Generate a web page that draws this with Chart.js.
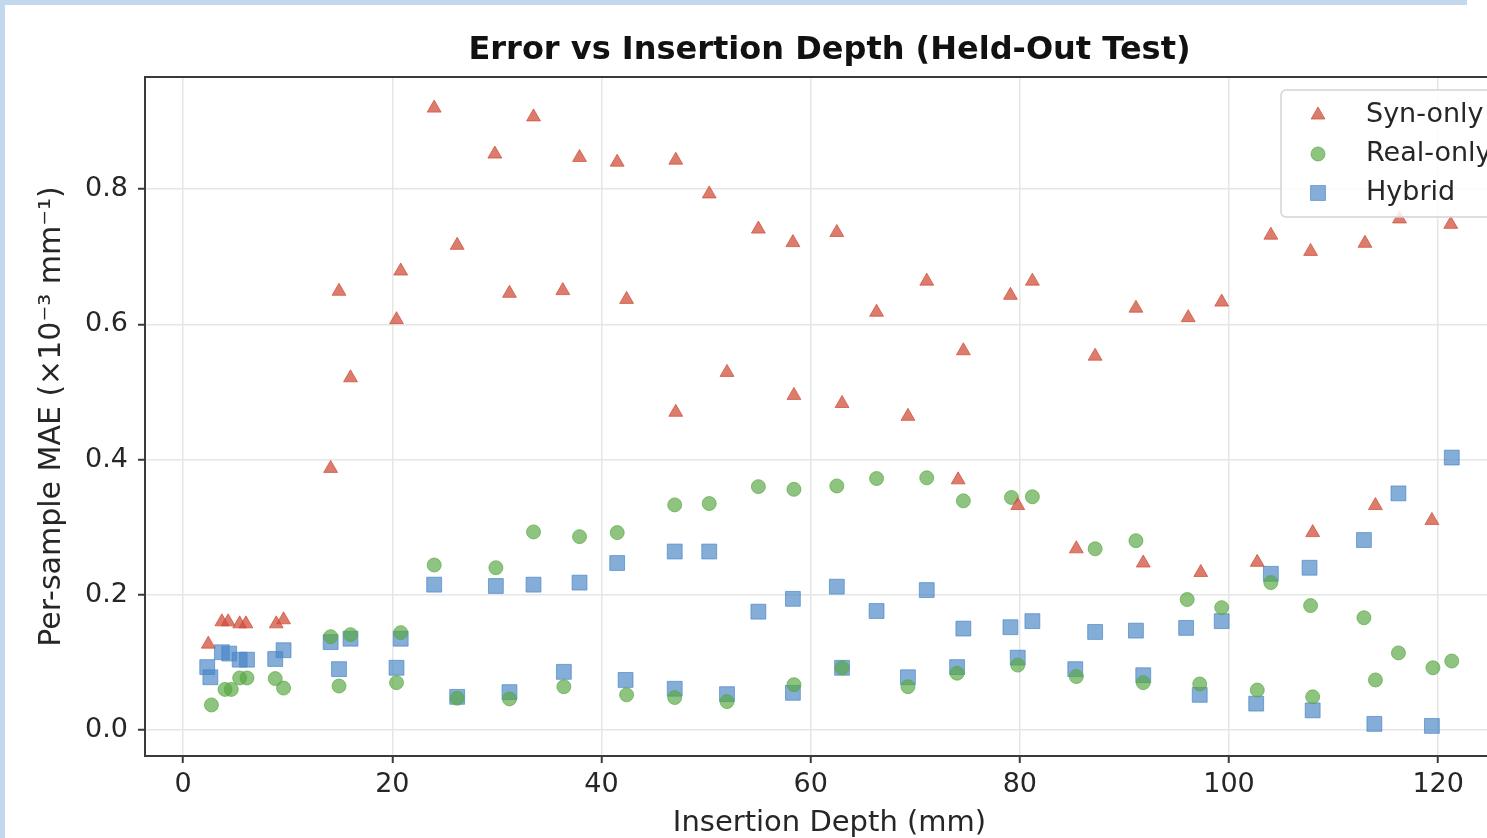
<!DOCTYPE html>
<html>
<head>
<meta charset="utf-8">
<script src="https://cdn.jsdelivr.net/npm/chart.js"></script>
<style>
  html, body { margin: 0; padding: 0; background: #fff; overflow: hidden; }
  body { width: 1487px; height: 838px; position: relative; }
  #edgeLeft { position: absolute; left: 0; top: 0; width: 5px; height: 838px; background: #c3d8ec; }
  #edgeTop { position: absolute; left: 0; top: 0; width: 1467px; height: 5px; background: #c3d8ec; }
  #wrap { position: absolute; left: 0; top: 0; width: 1530px; height: 850px; }
</style>
</head>
<body>
<div id="wrap"><canvas id="scatter"></canvas></div>
<div id="edgeLeft"></div>
<div id="edgeTop"></div>
<script>
// per-sample error vs insertion depth
var synDepth = [2.4, 3.7, 4.3, 5.4, 6.0, 8.9, 9.6, 14.1, 14.9, 16.0, 20.4, 20.8, 24.0, 26.2, 29.8, 31.2, 33.5, 36.3, 37.9,
  41.5, 42.4, 47.1, 47.1, 50.3, 52.0, 55.0, 58.3, 58.4, 62.5, 63.0, 66.3, 69.3, 71.1, 74.1, 74.6, 79.1, 79.8, 81.2, 85.4,
  87.2, 91.1, 91.8, 96.1, 97.3, 99.3, 102.7, 104.0, 107.8, 108.0, 113.0, 114.0, 116.3, 119.4, 121.2];
var synMae = [0.127, 0.16, 0.16, 0.157, 0.157, 0.157, 0.163, 0.387, 0.649, 0.521, 0.607, 0.679, 0.92, 0.717, 0.852, 0.646, 0.907, 0.65, 0.847,
  0.84, 0.637, 0.843, 0.47, 0.793, 0.529, 0.741, 0.721, 0.495, 0.736, 0.483, 0.618, 0.464, 0.664, 0.37, 0.561, 0.643, 0.332, 0.664, 0.268,
  0.553, 0.624, 0.247, 0.61, 0.233, 0.633, 0.248, 0.732, 0.708, 0.292, 0.72, 0.332, 0.756, 0.31, 0.748];

var realDepth = [2.7, 4.0, 4.6, 5.4, 6.1, 8.8, 9.6, 14.1, 14.9, 16.0, 20.4, 20.8, 24.0, 26.2, 29.9, 31.2, 33.5, 36.4, 37.9,
  41.5, 42.4, 47.0, 47.0, 50.3, 52.0, 55.0, 58.4, 58.4, 62.5, 63.0, 66.3, 69.3, 71.1, 74.0, 74.6, 79.2, 79.8, 81.2, 85.4,
  87.2, 91.1, 91.8, 96.0, 97.2, 99.3, 102.7, 104.0, 107.8, 108.0, 112.9, 114.0, 116.2, 119.5, 121.3];
var realMae = [0.037, 0.06, 0.06, 0.077, 0.077, 0.076, 0.062, 0.138, 0.065, 0.141, 0.07, 0.144, 0.244, 0.047, 0.24, 0.046, 0.293, 0.064, 0.286,
  0.292, 0.052, 0.333, 0.048, 0.335, 0.042, 0.36, 0.356, 0.067, 0.361, 0.092, 0.372, 0.064, 0.373, 0.084, 0.339, 0.344, 0.096, 0.345, 0.079,
  0.268, 0.28, 0.07, 0.193, 0.068, 0.181, 0.059, 0.218, 0.184, 0.049, 0.166, 0.074, 0.114, 0.092, 0.102];

var hybridDepth = [2.3, 2.6, 3.7, 4.4, 5.4, 6.1, 8.8, 9.6, 14.1, 14.9, 16.0, 20.4, 20.8, 24.0, 26.2, 29.9, 31.2, 33.5, 36.4, 37.9,
  41.5, 42.3, 47.0, 47.0, 50.3, 52.0, 55.0, 58.3, 58.3, 62.5, 63.0, 66.3, 69.3, 71.1, 74.0, 74.6, 79.1, 79.8, 81.2, 85.3,
  87.2, 91.1, 91.8, 95.9, 97.2, 99.3, 102.6, 104.0, 107.7, 108.0, 112.9, 113.9, 116.2, 119.4, 121.3];
var hybridMae = [0.093, 0.078, 0.115, 0.113, 0.104, 0.104, 0.105, 0.118, 0.13, 0.09, 0.135, 0.092, 0.135, 0.215, 0.049, 0.213, 0.056, 0.215, 0.086, 0.218,
  0.247, 0.074, 0.264, 0.061, 0.264, 0.053, 0.175, 0.194, 0.055, 0.212, 0.092, 0.176, 0.078, 0.207, 0.093, 0.15, 0.152, 0.107, 0.161, 0.09,
  0.145, 0.147, 0.081, 0.151, 0.052, 0.161, 0.039, 0.231, 0.24, 0.029, 0.281, 0.009, 0.35, 0.006, 0.403];

var xTicks = [0, 20, 40, 60, 80, 100, 120];
var yTicks = [0.0, 0.2, 0.4, 0.6, 0.8];

var FONT = "'DejaVu Sans', 'Liberation Sans', sans-serif";

function toPoints(xs, ys) {
  return xs.map(function(x, i) { return {x: x, y: ys[i]}; });
}

// matplotlib-like frame on all four sides
var framePlugin = {
  id: 'frame',
  afterDatasetsDraw: function(chart) {
    var a = chart.chartArea, ctx = chart.ctx;
    ctx.save();
    ctx.strokeStyle = '#3a3a3a';
    ctx.lineWidth = 2;
    ctx.strokeRect(a.left, a.top, a.right - a.left, a.bottom - a.top);
    ctx.restore();
  }
};

// legend box inside the axes, upper right
var insideLegend = {
  id: 'insideLegend',
  afterDraw: function(chart) {
    var a = chart.chartArea, ctx = chart.ctx;
    var w = 220, h = 127;
    var left = a.right - 13 - w, top = a.top + 13;
    ctx.save();
    ctx.beginPath();
    if (ctx.roundRect) ctx.roundRect(left, top, w, h, 5); else ctx.rect(left, top, w, h);
    ctx.fillStyle = 'rgba(255,255,255,0.85)';
    ctx.fill();
    ctx.strokeStyle = '#d4d4d4';
    ctx.lineWidth = 1.5;
    ctx.stroke();
    ctx.font = '27px ' + FONT;
    ctx.textBaseline = 'middle';
    chart.data.datasets.forEach(function(ds, i) {
      var cy = top + 25 + i * 39;
      var cx = left + 37;
      ctx.fillStyle = ds.backgroundColor;
      ctx.strokeStyle = ds.borderColor;
      ctx.lineWidth = 1;
      Chart.helpers.drawPoint(ctx, {pointStyle: ds.pointStyle, radius: ds.pointRadius, rotation: 0, borderWidth: 1}, cx, cy);
      ctx.fillStyle = '#262626';
      ctx.fillText(ds.label, left + 85, cy);
    });
    ctx.restore();
  }
};

var ctx = document.getElementById('scatter').getContext('2d');
var config = {
  type: 'scatter',
  data: {
    datasets: [{
      label: 'Syn-only',
      data: toPoints(synDepth, synMae),
      pointStyle: 'triangle',
      pointRadius: 8,
      backgroundColor: 'rgba(208,78,58,0.74)',
      borderColor: 'rgba(208,78,58,0.74)',
      borderWidth: 1
    }, {
      label: 'Real-only',
      data: toPoints(realDepth, realMae),
      pointStyle: 'circle',
      pointRadius: 7,
      backgroundColor: 'rgba(88,168,66,0.68)',
      borderColor: 'rgba(88,168,66,0.68)',
      borderWidth: 1
    }, {
      label: 'Hybrid',
      data: toPoints(hybridDepth, hybridMae),
      pointStyle: 'rect',
      pointRadius: 10.5,
      backgroundColor: 'rgba(74,134,198,0.68)',
      borderColor: 'rgba(74,134,198,0.68)',
      borderWidth: 1
    }]
  },
  options: {
    responsive: true,
    maintainAspectRatio: false,
    animation: false,
    layout: { padding: { left: 0, right: 16, top: 0, bottom: 0 } },
    plugins: {
      legend: { display: false },
      tooltip: { enabled: false },
      title: {
        display: true,
        fullSize: false,
        text: 'Error vs Insertion Depth (Held-Out Test)',
        color: '#111',
        font: { family: FONT, size: 32, weight: 'bold' },
        padding: { top: 31, bottom: 7.6 }
      }
    },
    scales: {
      x: {
        type: 'linear',
        min: -3.65,
        max: 127.25,
        afterFit: function(s) { s.height = 94; },
        afterBuildTicks: function(s) { s.ticks = xTicks.map(function(v) { return {value: v}; }); },
        grid: { color: '#e6e6e6', lineWidth: 1.5, tickColor: '#3a3a3a', tickLength: 7, tickWidth: 2 },
        border: { color: '#3a3a3a', width: 2 },
        ticks: { color: '#262626', padding: 6, maxRotation: 0, font: { family: FONT, size: 27 } },
        title: {
          display: true,
          text: 'Insertion Depth (mm)',
          color: '#262626',
          font: { family: FONT, size: 29 },
          padding: { top: 0, bottom: 9 }
        }
      },
      y: {
        type: 'linear',
        min: -0.0385,
        max: 0.966,
        afterFit: function(s) { s.width = 145; },
        afterBuildTicks: function(s) { s.ticks = yTicks.map(function(v) { return {value: v}; }); },
        grid: { color: '#e6e6e6', lineWidth: 1.5, tickColor: '#3a3a3a', tickLength: 7, tickWidth: 2 },
        border: { color: '#3a3a3a', width: 2 },
        ticks: {
          color: '#262626',
          padding: 10,
          font: { family: FONT, size: 27 },
          callback: function(v) { return v.toFixed(1); }
        },
        title: {
          display: true,
          text: 'Per-sample MAE (×10⁻³ mm⁻¹)',
          color: '#262626',
          font: { family: FONT, size: 30 },
          padding: { top: 34, bottom: 0 }
        }
      }
    }
  },
  plugins: [framePlugin, insideLegend]
};
var scatterChart = new Chart(ctx, config);
</script>
</body>
</html>
